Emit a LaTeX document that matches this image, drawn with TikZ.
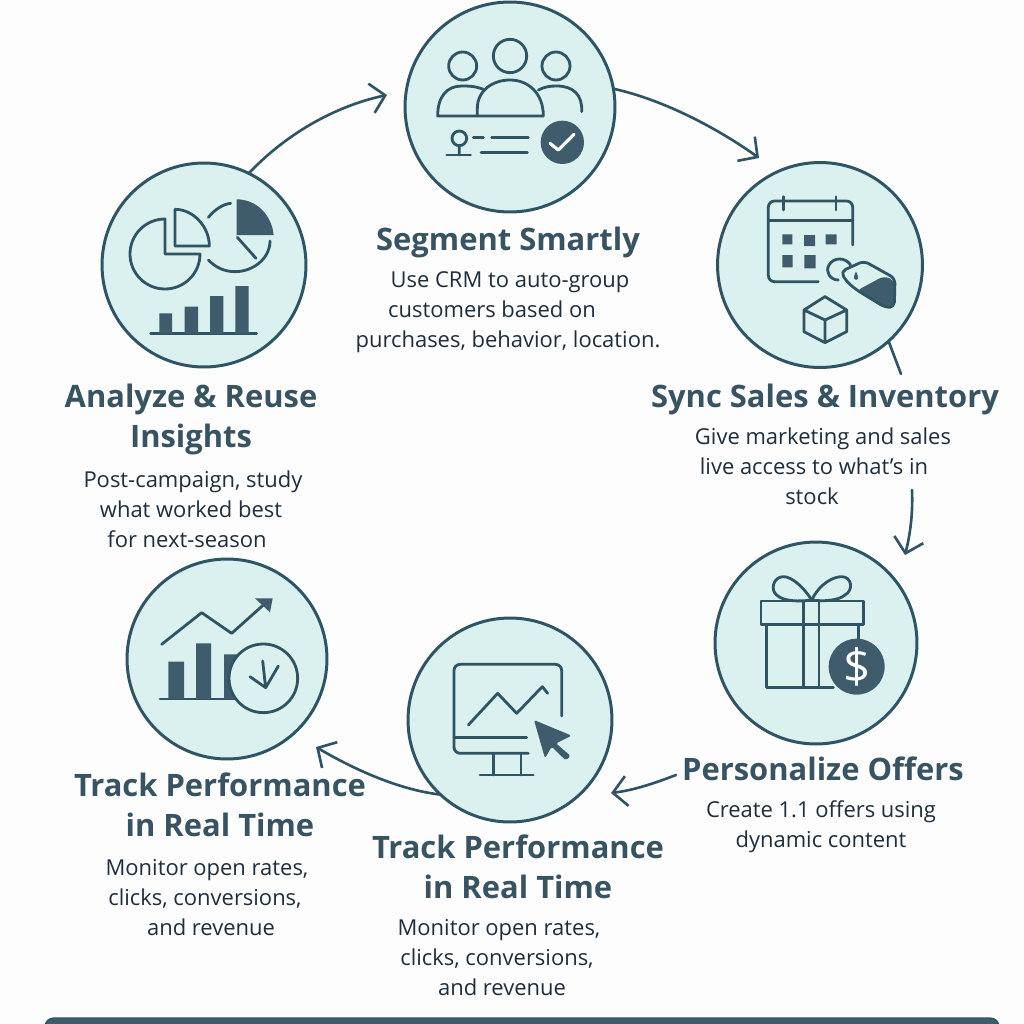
\documentclass[tikz,border=0pt]{standalone}
\usepackage{fontspec}
\setmainfont{Open Sans}
\usetikzlibrary{arrows.meta}
\definecolor{ink}{HTML}{2F5565}
\definecolor{dark}{HTML}{3E5C6B}
\definecolor{pale}{HTML}{DAF1EF}
\definecolor{paper}{HTML}{FEFDFD}
\definecolor{heading}{HTML}{385361}
\definecolor{bodytx}{HTML}{1E2E3C}
\newcommand{\shft}[2]{\ifnum#1<0 #2\kern\dimexpr-1.138pt*\numexpr#1\relax\relax\else\kern\dimexpr1.138pt*\numexpr#1\relax\relax #2\fi}
\tikzset{
 x=0.02cm,y=-0.02cm,
 bubble/.style={circle,draw=ink,fill=pale,line width=1.7pt,inner sep=0pt,outer sep=0pt},
 ic/.style={draw=ink,line width=1.6pt,line cap=round,line join=round},
 flow/.style={draw=ink,line width=1.5pt,line cap=round,-{Straight Barb[length=8pt,width=17pt,line width=1.5pt]}},
 plainflow/.style={draw=ink,line width=1.5pt,line cap=round},
 head/.style={align=center,text=heading,font=\fontsize{17.6}{22.76}\selectfont\bfseries,inner sep=0pt},
 para/.style={align=center,text=bodytx,font=\fontsize{12.5}{17.07}\selectfont,inner sep=0pt}
}
\begin{document}
\begin{tikzpicture}
\useasboundingbox (0,0) rectangle (1024,1024);
\clip (0,0) rectangle (1024,1024);
\fill[paper] (0,0) rectangle (1024,1024);

% circles
\node[bubble,minimum size=4.2cm]  (seg)  at (510,107) {};
\node[bubble,minimum size=4.1cm]  (sync) at (820,265) {};
\node[bubble,minimum size=4.04cm] (gift) at (816,643) {};
\node[bubble,minimum size=4.08cm] (mon)  at (510,720) {};
\node[bubble,minimum size=4.0cm]  (trk)  at (227,659) {};
\node[bubble,minimum size=4.08cm] (ana)  at (204,265) {};

% connectors
\coordinate (a1) at (387,95);
\coordinate (a2) at (759,158);
\coordinate (a3a) at (901,374);
\coordinate (a3b) at (912,490);
\coordinate (a3) at (905,555);
\coordinate (a4b) at (676,775);
\coordinate (a4) at (611,793);
\coordinate (a5) at (316,747);
\draw[flow] (ana.64) .. controls (290,130) and (340,105) .. (a1);
\draw[flow] (seg.10) .. controls (665,100) and (720,130) .. (a2);
\draw[plainflow] (sync.-48) -- (a3a);
\draw[flow] (a3b) .. controls (913,515) and (910,535) .. (a3);
\draw[flow] (a4b) .. controls (655,783) and (635,790) .. (a4);
\draw[flow] (mon.227) .. controls (400,790) and (355,770) .. (a5);

% icon: people
\begin{scope}[shift={(400,0)},scale=1/3]
 \draw[ic] (188,198) circle[radius=42] (330,168) circle[radius=50] (468,198) circle[radius=42];
 \draw[ic] (250,268) .. controls (225,258) and (205,258) .. (185,258) .. controls (140,258) and (113,290) .. (113,348) -- (430,348);
 \draw[ic] (232,348) -- (232,325) .. controls (232,270) and (280,240) .. (330,240) .. controls (385,240) and (430,280) .. (430,348);
 \draw[ic] (415,270) .. controls (435,260) and (450,258) .. (470,258) .. controls (520,258) and (548,285) .. (545,335);
 \draw[ic] (178,415) circle[radius=22] (178,437) -- (178,465);
 \draw[ic] (140,465) -- (212,465) (220,413) -- (250,413) (275,413) -- (385,413) (243,458) -- (382,458);
 \fill[dark] (487,427) circle[radius=65];
 \draw[white,line width=1.8pt,line cap=round,line join=round] (450,430) -- (475,450) -- (522,403);
\end{scope}

% icon: calendar, tag, box
\begin{scope}[shift={(710,150)},scale=1/3]
 \draw[ic,rounded corners=3.5pt] (428,285) -- (428,153) -- (175,153) -- (175,395) -- (325,395);
 \draw[ic] (175,212) -- (428,212) (220,140) -- (220,180) (378,140) -- (378,180);
 \fill[dark] (217,253) rectangle (247,283) (282,255) rectangle (315,288) (347,253) rectangle (380,283) (217,315) rectangle (248,352) (283,315) rectangle (317,355);
 \draw[ic] (385,390) .. controls (360,390) and (345,365) .. (357,345) .. controls (370,322) and (405,320) .. (422,345);
 \fill[dark,rounded corners=3pt] (440,422) -- (522,378) -- (555,392) -- (553,472) -- (525,472) -- cycle;
 \draw[ic,rounded corners=3pt] (392,365) -- (462,333) -- (555,385) -- (553,472) -- (525,472) -- (440,420) -- (410,395) -- cycle;
 \fill[dark] (438,365) .. controls (445,378) and (448,388) .. (438,390) .. controls (428,388) and (432,375) .. (438,365);
 \draw[ic] (345,440) -- (410,480) -- (410,545) -- (345,578) -- (282,545) -- (282,480) -- cycle (282,480) -- (345,510) -- (410,480) (345,510) -- (345,578);
\end{scope}

% icon: pies and bars
\begin{scope}[shift={(110,160)},scale=1/3]
 \draw[ic] (165,177) arc[start angle=270,end angle=0,radius=105] -- (165,282) -- cycle;
 \draw[ic] (195,148) -- (195,258) -- (298,258) .. controls (298,200) and (250,148) .. (195,148);
 \fill[dark] (380,118) -- (380,225) -- (491,225) .. controls (485,165) and (440,118) .. (380,118);
 \draw[ic] (295,172) .. controls (315,148) and (340,132) .. (362,130);
 \draw[ic] (480,243) .. controls (480,295) and (430,335) .. (375,335) .. controls (340,335) and (315,320) .. (295,300);
 \draw[ic] (382,232) -- (438,295);
 \draw[ic] (122,521) -- (440,521);
 \fill[dark] (148,460) rectangle (186,521) (224,440) rectangle (264,521) (300,408) rectangle (340,521) (376,378) rectangle (416,521);
\end{scope}

% icon: gift
\begin{scope}[shift={(710,540)},scale=1/3]
 \draw[ic] (305,180) .. controls (280,140) and (245,110) .. (220,110) .. controls (190,110) and (180,150) .. (200,165) .. controls (220,185) and (270,185) .. (305,180);
 \draw[ic] (305,180) .. controls (330,130) and (370,110) .. (395,110) .. controls (425,110) and (432,150) .. (405,165) .. controls (385,182) and (340,185) .. (305,180);
 \draw[ic] (153,183) rectangle (460,253);
 \draw[ic] (170,253) -- (170,442) -- (370,442) (445,253) -- (445,300) (280,183) -- (280,442) (327,183) -- (327,442);
 \fill[dark] (440,380) circle[radius=84];
 \node[text=white,font=\fontsize{27}{27}\selectfont,inner sep=0pt] (dollar) at (440,380) {\$};
\end{scope}

% icon: monitor
\begin{scope}[shift={(405,630)},scale=1/3]
 \draw[ic,rounded corners=3.5pt] (470,258) -- (470,103) -- (147,103) -- (147,370) -- (370,370);
 \draw[ic] (147,323) -- (365,323) (265,370) -- (265,435) (348,370) -- (348,435) (225,435) -- (385,435);
 \draw[ic] (190,285) -- (278,190) -- (335,250) -- (412,170) -- (428,190);
 \fill[dark,rounded corners=1pt] (387,270) -- (500,317) -- (453,340) -- (497,378) -- (482,391) -- (440,350) -- (420,385) -- cycle;
\end{scope}

% icon: trend
\begin{scope}[shift={(115,550)},scale=1/3]
 \draw[ic] (140,283) -- (260,188) -- (350,250) -- (445,165);
 \fill[dark] (420,145) -- (473,145) -- (465,187) -- cycle;
 \draw[ic] (135,447) -- (360,447);
 \fill[dark] (160,335) rectangle (207,447) (243,280) rectangle (288,447) (327,313) rectangle (375,447);
 \filldraw[ic,fill=pale] (445,385) circle[radius=103];
 \draw[ic] (443,333) -- (452,413) (405,380) -- (452,413) -- (490,348);
\end{scope}

% text
\node[head] (h1) at (508,242) {Segment Smartly};
\node[para] (p1) at (508,312) {\shft{2}{Use CRM to auto-group}\\\shft{-16}{customers based on}\\purchases, behavior, location.};
\node[head] (h2) at (825,399) {Sync Sales \& Inventory};
\node[para] (p2) at (816,466) {\shft{7}{Give marketing and sales}\\\shft{-2}{live access to what's in}\\\shft{-4}{stock}};
\node[head] (h3) at (823,769) {Personalize Offers};
\node[para] (p3) at (821,827) {Create 1.1 offers using\\dynamic content};
\node[head] (h4) at (518,867) {Track Performance\\in Real Time};
\node[para] (p4) at (499,958) {Monitor open rates,\\\shft{-2}{clicks, conversions,}\\\shft{3}{and revenue}};
\node[head] (h5) at (220,805) {Track Performance\\in Real Time};
\node[para] (p5) at (207,898) {Monitor open rates,\\\shft{-2}{clicks, conversions,}\\\shft{4}{and revenue}};
\node[head] (h6) at (191,419) {Analyze \& Reuse\\Insights};
\node[para] (p6) at (191,509) {\shft{2}{Post-campaign, study}\\what worked best\\\shft{-4}{for next-season}};

% footer band
\fill[dark,rounded corners=5pt] (45,1018) rectangle (999,1050);
\draw[ink,line width=0.8pt,rounded corners=5pt] (45,1050) -- (45,1018) -- (999,1018) -- (999,1050);
\end{tikzpicture}
\end{document}
